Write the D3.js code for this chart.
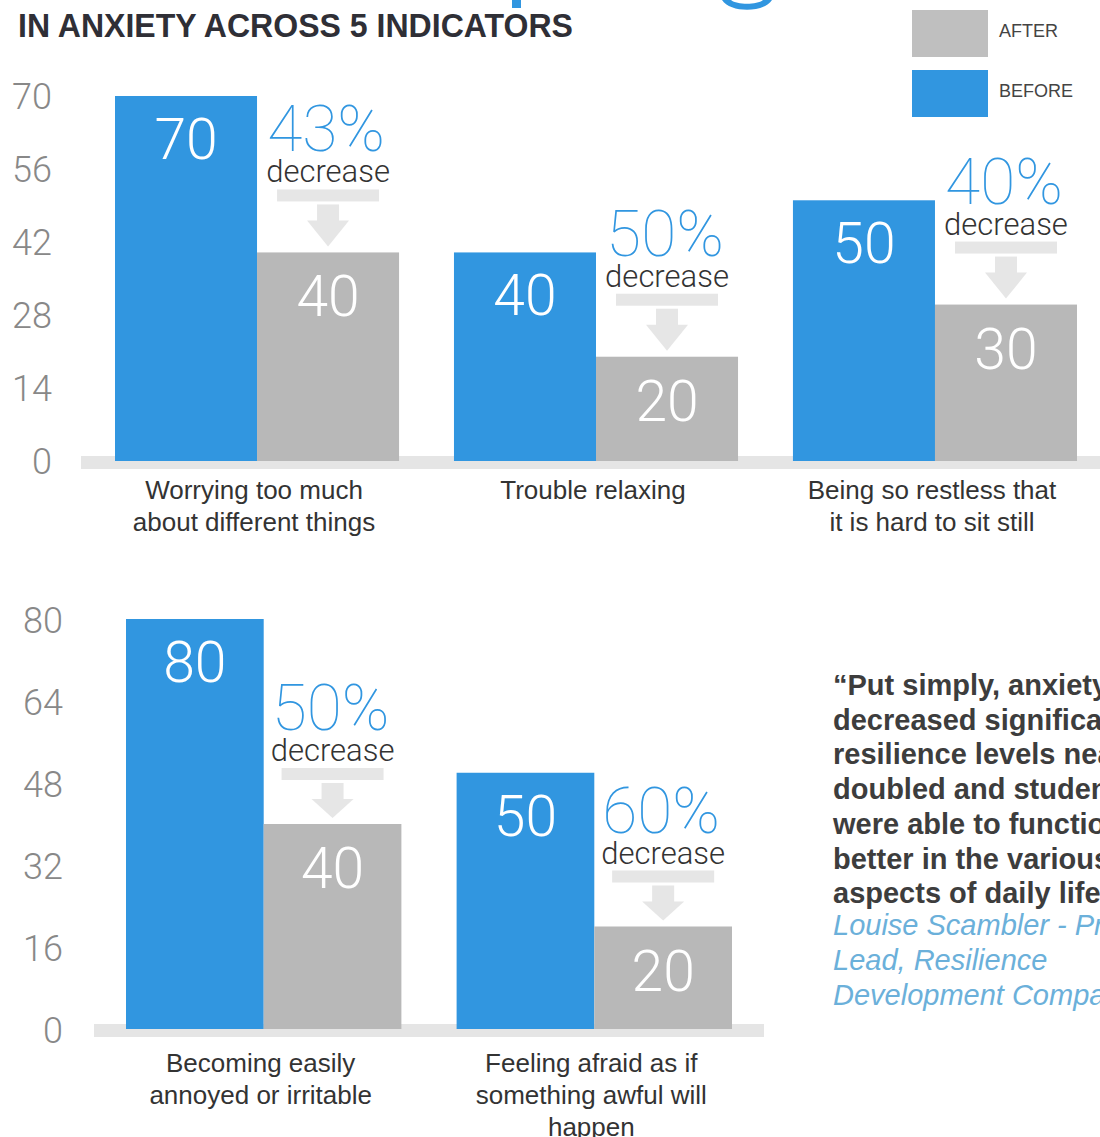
<!DOCTYPE html>
<html><head><meta charset="utf-8">
<script src="https://cdn.jsdelivr.net/npm/d3@7"></script>
<style>body{margin:0;background:#fff} svg{display:block}</style>
</head><body>
<script>
// ---- data ----
const topCategories = ["Worrying too much|about different things", "Trouble relaxing", "Being so restless that|it is hard to sit still"];
const topBefore = [70, 40, 50];
const topAfter = [40, 20, 30];
const topTicks = [0, 14, 28, 42, 56, 70];

const bottomCategories = ["Becoming easily|annoyed or irritable", "Feeling afraid as if|something awful will|happen"];
const bottomBefore = [80, 50];
const bottomAfter = [40, 20];
const bottomTicks = [0, 16, 32, 48, 64, 80];

const seriesNames = ["BEFORE", "AFTER"];
const titleText = "IN ANXIETY ACROSS 5 INDICATORS";
const quoteLines = ["\u201cPut simply, anxiety", "decreased significantly,", "resilience levels nearly", "doubled and students", "were able to function", "better in the various", "aspects of daily life\u201d"];
const attributionLines = ["Louise Scambler - Project", "Lead, Resilience", "Development Company"];

// ---- style ----
const BLUE = "#3196e0", GREY = "#b8b8b8", LEG_GREY = "#bfbfbf", BAND = "#e5e5e5", ARROW = "#e6e6e6";
const LIGHT = "Roboto, 'Open Sans', 'Liberation Sans', sans-serif";
const SANS = "'Liberation Sans', Arial, Helvetica, sans-serif";

const W = 1100, H = 1137;
const svg = d3.select("body").append("svg").attr("width", W).attr("height", H);

// cut-off blue headline fragments at the very top
svg.append("rect").attr("x", 512).attr("y", 0).attr("width", 9).attr("height", 8).attr("fill", BLUE);
svg.append("path").attr("d", "M722,0 C730,13 764,13 772,0 L763,0 C757,5 737,5 731,0 Z").attr("fill", BLUE);

// title
svg.append("text").attr("x", 18).attr("y", 37).text(titleText)
  .attr("font-family", SANS).attr("font-weight", 700).attr("font-size", 34)
  .attr("fill", "#2f2f36").attr("textLength", 555).attr("lengthAdjust", "spacingAndGlyphs");

// legend
const legend = [{name: seriesNames[1], color: LEG_GREY, y: 10}, {name: seriesNames[0], color: BLUE, y: 70}];
legend.forEach(l => {
  svg.append("rect").attr("x", 912).attr("y", l.y).attr("width", 76).attr("height", 47).attr("fill", l.color);
  svg.append("text").attr("x", 999).attr("y", l.y + 27).text(l.name)
    .attr("font-family", SANS).attr("font-size", 18).attr("fill", "#444");
});

function drawPanel(cfg) {
  const g = svg.append("g");
  const cats = cfg.categories;
  const x = d3.scaleBand().domain(cats).range(cfg.xRange).paddingInner(cfg.pad).paddingOuter(0);
  const xi = d3.scaleBand().domain(seriesNames).range([0, x.bandwidth()]);
  const y = d3.scaleLinear().domain([0, d3.max(cfg.ticks)]).range(cfg.yRange);

  // baseline band
  g.append("rect").attr("x", cfg.bandX[0]).attr("y", y(0) - 5)
    .attr("width", cfg.bandX[1] - cfg.bandX[0]).attr("height", 13).attr("fill", BAND);

  // axis labels
  const axis = g.append("g").attr("transform", `translate(${cfg.tickX},${cfg.tickShift})`)
    .call(d3.axisLeft(y).tickValues(cfg.ticks).tickSize(0).tickPadding(0));
  axis.select(".domain").remove();
  axis.selectAll("text").attr("font-family", LIGHT).attr("font-weight", 300)
    .attr("font-size", 36).attr("fill", "#888");

  const rows = cats.map((c, i) => ({cat: c, before: cfg.before[i], after: cfg.after[i]}));
  const grp = g.selectAll(".grp").data(rows).join("g").attr("transform", d => `translate(${x(d.cat)},0)`);

  // bars
  grp.append("rect").attr("x", xi("BEFORE")).attr("width", xi.bandwidth())
    .attr("y", d => y(d.before)).attr("height", d => y(0) - y(d.before)).attr("fill", BLUE);
  grp.append("rect").attr("x", xi("AFTER")).attr("width", xi.bandwidth())
    .attr("y", d => y(d.after)).attr("height", d => y(0) - y(d.after)).attr("fill", GREY);

  // values in bars
  const valStyle = s => s.attr("font-family", LIGHT).attr("font-weight", 300).attr("font-size", 57)
    .attr("fill", "#fff").attr("text-anchor", "middle");
  grp.append("text").attr("x", xi("BEFORE") + xi.bandwidth() / 2).attr("y", d => y(d.before) + 63)
    .text(d => d.before).call(valStyle);
  grp.append("text").attr("x", xi("AFTER") + xi.bandwidth() / 2).attr("y", d => y(d.after) + 64)
    .text(d => d.after).call(valStyle);

  // decrease annotations
  const ann = grp.append("g").attr("transform", d => `translate(${xi("AFTER") + xi.bandwidth() / 2},${y(d.after)})`);
  ann.append("text").attr("y", cfg.pctDy).attr("x", -2).attr("text-anchor", "middle")
    .text(d => Math.round((d.before - d.after) / d.before * 100) + "%")
    .attr("font-family", LIGHT).attr("font-weight", 100).attr("font-size", 64).attr("fill", BLUE);
  ann.append("text").attr("y", cfg.pctDy + 31).attr("text-anchor", "middle").text("decrease")
    .attr("font-family", LIGHT).attr("font-weight", 300).attr("font-size", 31).attr("fill", "#333");
  const a0 = cfg.pctDy + 38;
  ann.append("rect").attr("x", -51).attr("y", a0).attr("width", 102).attr("height", 12).attr("fill", ARROW);
  ann.append("rect").attr("x", -11).attr("y", a0 + 15).attr("width", 22).attr("height", 17).attr("fill", ARROW);
  ann.append("path").attr("d", `M-21,${a0 + 31} L21,${a0 + 31} L0,-6 Z`).attr("fill", ARROW);

  // category labels
  grp.each(function(d) {
    const lines = d.cat.split("|");
    const t = d3.select(this).append("text").attr("text-anchor", "middle")
      .attr("font-family", SANS).attr("font-size", 26).attr("fill", "#333");
    lines.forEach((ln, k) => {
      t.append("tspan").attr("x", x.bandwidth() / 2 - 3).attr("y", y(0) + cfg.labelDy + k * 32).text(ln);
    });
  });
}

drawPanel({categories: topCategories, before: topBefore, after: topAfter, ticks: topTicks,
  xRange: [115, 1077], pad: 0.162, yRange: [461, 96], tickX: 52, tickShift: 1, bandX: [81, 1100], labelDy: 38, pctDy: -101});
drawPanel({categories: bottomCategories, before: bottomBefore, after: bottomAfter, ticks: bottomTicks,
  xRange: [126, 732], pad: 0.167, yRange: [1029, 619], tickX: 63, tickShift: 2, bandX: [94, 764], labelDy: 43, pctDy: -94});

// quote
const q = svg.append("text").attr("font-family", SANS).attr("font-weight", 700).attr("font-size", 29).attr("fill", "#3d3d3d");
quoteLines.forEach((ln, i) => q.append("tspan").attr("x", 833).attr("y", 695 + i * 34.7).text(ln));
const a = svg.append("text").attr("font-family", SANS).attr("font-style", "italic").attr("font-size", 29).attr("fill", "#6bb0da");
attributionLines.forEach((ln, i) => a.append("tspan").attr("x", 833).attr("y", 935 + i * 35).text(ln));
</script>
</body></html>
